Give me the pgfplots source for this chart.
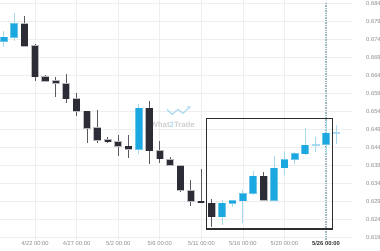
\documentclass[border=0pt]{standalone}
\usepackage{pgfplots}
\pgfplotsset{compat=1.18}
\usepackage{pgfplotstable}
\usetikzlibrary{arrows.meta}
\usepackage{fontspec}
\setmainfont{Liberation Sans}
\definecolor{bluebody}{HTML}{1BA7E0}
\definecolor{blueborder}{HTML}{6CC6EC}
\definecolor{bluewick}{HTML}{A6DAF1}
\definecolor{darkbody}{HTML}{2B2C35}
\definecolor{darkborder}{HTML}{B8B8BC}
\definecolor{darkwick}{HTML}{5A5A60}
\definecolor{gridgray}{HTML}{EEEEEE}
\definecolor{labelgray}{HTML}{8C8C8C}
\definecolor{rectcol}{HTML}{2E2E2E}
\definecolor{dotcol}{HTML}{9FB7C4}
\definecolor{wmgray}{HTML}{CFCFCF}
\definecolor{wmblue}{HTML}{AEDCF1}

\pgfplotstableread{
x o h l c
0 0.67344 0.67630 0.67185 0.67455
1 0.67455 0.68123 0.67344 0.67825
13 0.64339 0.65591 0.64209 0.65480
21 0.62465 0.62929 0.62234 0.62837
22 0.62846 0.62921 0.62750 0.62901
23 0.62910 0.63207 0.62298 0.63104
24 0.63116 0.63744 0.63060 0.63588
26 0.62921 0.64161 0.62921 0.63811
27 0.63828 0.64301 0.63633 0.64042
28 0.64061 0.64256 0.63922 0.64209
29 0.64217 0.64924 0.64181 0.64451
31 0.64479 0.65127 0.64181 0.64785
}\bull

\pgfplotstableread{
x o h l c
2 0.67825 0.68056 0.67213 0.67213
3 0.67213 0.67269 0.66248 0.66359
4 0.66351 0.66415 0.66220 0.66239
5 0.66239 0.66351 0.65803 0.66184
6 0.66164 0.66434 0.65627 0.65747
7 0.65739 0.65897 0.65274 0.65397
8 0.65397 0.65410 0.64523 0.64932
9 0.64940 0.65433 0.64523 0.64598
10 0.64598 0.64690 0.64523 0.64562
11 0.64543 0.64737 0.64150 0.64431
12 0.64423 0.64730 0.64100 0.64339
14 0.65480 0.65691 0.63931 0.64301
15 0.64292 0.64579 0.63950 0.64078
16 0.64050 0.64117 0.63875 0.63894
17 0.63883 0.63903 0.63152 0.63199
18 0.63188 0.63486 0.62762 0.62893
19 0.62893 0.63783 0.62837 0.62865
20 0.62837 0.62965 0.62170 0.62465
25 0.63588 0.63708 0.62901 0.62921
}\bear

\pgfplotstableread{
x o h l c
30 0.64459 0.64673 0.64256 0.64479
32 0.64785 0.65007 0.64479 0.64801
}\cross

\begin{document}
\begin{tikzpicture}
\begin{axis}[
  at={(0,10pt)}, anchor=south west,
  scale only axis, width=352pt, height=240pt,
  xmin=-0.366, xmax=33.5, ymin=0.61817, ymax=0.68492,
  axis line style={draw=none}, major tick length=0pt,
  xtick={3,7,11,15,19,23,27,31},
  xticklabels={4/22 00:00,4/27 00:00,5/2 00:00,5/6 00:00,5/11 00:00,5/16 00:00,5/20 00:00,{\color{black!80}\bfseries 5/26 00:00}},
  ytick={0.619,0.624,0.629,0.634,0.639,0.644,0.649,0.654,0.659,0.664,0.669,0.674,0.679,0.684},
  yticklabel pos=right,
  grid=major, grid style={draw=gridgray, line width=0.5pt},
  ticklabel style={font=\fontsize{5.8}{6}\selectfont, text=labelgray, inner sep=0pt},
  xticklabel style={anchor=center, yshift=-3.2pt},
  yticklabel style={anchor=west, xshift=14pt, /pgf/number format/.cd, fixed, fixed zerofill, precision=3},
  /pgf/number format/assume math mode=true,
  clip=false,
]
% watermark
\node[font=\fontsize{7.8}{8}\selectfont\bfseries, text=wmgray, inner sep=0pt] at (axis cs:16.25,0.65015) {What{\color{wmblue}2}Trade};
\draw[wmblue, line width=1.3pt, line join=round, -{Stealth[length=2.5pt,width=4pt]}] (axis cs:15.7,0.65450) -- (axis cs:16.2,0.65310) -- (axis cs:16.75,0.65450) -- (axis cs:17.25,0.65340) -- (axis cs:17.95,0.65540);
% dotted current line
\draw[dotcol, line width=1.1pt, dash pattern=on 0.8pt off 0.9pt] (axis cs:31,0.61817) -- (axis cs:31,0.68400);
% bearish candles
\addplot[draw=none, mark=none, forget plot, error bars/.cd, y dir=both, y explicit, error mark=none,
  error bar style={draw=darkwick, line width=0.9pt}]
  table[x=x, y expr={(\thisrow{h}+\thisrow{l})/2}, y error expr={(\thisrow{h}-\thisrow{l})/2}] {\bear};
\addplot[draw=none, mark=none, forget plot, error bars/.cd, y dir=both, y explicit, error mark=none,
  error bar style={draw=darkborder, line width=7.8pt}]
  table[x=x, y expr={(\thisrow{o}+\thisrow{c})/2}, y error expr={abs(\thisrow{o}-\thisrow{c})/2+0.0002}] {\bear};
\addplot[draw=none, mark=none, forget plot, error bars/.cd, y dir=both, y explicit, error mark=none,
  error bar style={draw=darkbody, line width=6.4pt}]
  table[x=x, y expr={(\thisrow{o}+\thisrow{c})/2}, y error expr={abs(\thisrow{o}-\thisrow{c})/2}] {\bear};
% bullish candles
\addplot[draw=none, mark=none, forget plot, error bars/.cd, y dir=both, y explicit, error mark=none,
  error bar style={draw=bluewick, line width=0.9pt}]
  table[x=x, y expr={(\thisrow{h}+\thisrow{l})/2}, y error expr={(\thisrow{h}-\thisrow{l})/2}] {\bull};
\addplot[draw=none, mark=none, forget plot, error bars/.cd, y dir=both, y explicit, error mark=none,
  error bar style={draw=blueborder, line width=7.8pt}]
  table[x=x, y expr={(\thisrow{o}+\thisrow{c})/2}, y error expr={abs(\thisrow{o}-\thisrow{c})/2+0.0002}] {\bull};
\addplot[draw=none, mark=none, forget plot, error bars/.cd, y dir=both, y explicit, error mark=none,
  error bar style={draw=bluebody, line width=6.4pt}]
  table[x=x, y expr={(\thisrow{o}+\thisrow{c})/2}, y error expr={abs(\thisrow{o}-\thisrow{c})/2}] {\bull};
% light crosses
\addplot[draw=none, mark=none, forget plot, error bars/.cd, y dir=both, y explicit, error mark=none,
  error bar style={draw=bluewick, line width=0.9pt}]
  table[x=x, y expr={(\thisrow{h}+\thisrow{l})/2}, y error expr={(\thisrow{h}-\thisrow{l})/2}] {\cross};
\addplot[draw=none, mark=none, forget plot, error bars/.cd, y dir=both, y explicit, error mark=none,
  error bar style={draw=bluewick, line width=8pt}]
  table[x=x, y expr={(\thisrow{o}+\thisrow{c})/2}, y error expr={abs(\thisrow{o}-\thisrow{c})/2+0.00008}] {\cross};
% highlight rectangle
\draw[rectcol, line width=1.1pt] (axis cs:19.46,0.62122) rectangle (axis cs:31.59,0.65196);
\end{axis}
\pgfresetboundingbox
\useasboundingbox (0,0) rectangle (380pt,250pt);
\end{tikzpicture}
\end{document}
